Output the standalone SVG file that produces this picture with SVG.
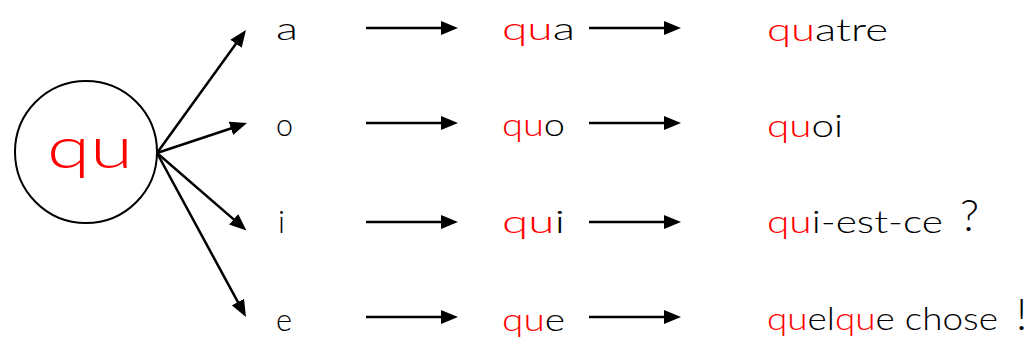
<svg xmlns="http://www.w3.org/2000/svg" width="1029" height="362" viewBox="0 0 1029 362">
<style>
text{font-family:Lato,"DejaVu Sans","Liberation Sans",sans-serif;font-weight:300;fill:#000}
.r{fill:#ff0000}
.w{font-size:31px}
.big{font-size:58px}
.conn line{stroke:#000;stroke-width:2.5;fill:none}
</style>
<defs>
<marker id="ah" markerUnits="userSpaceOnUse" markerWidth="18" markerHeight="14" refX="7" refY="7" orient="auto">
<path d="M0,0 L17,7 L0,14 z" fill="#000"/>
</marker>
</defs>
<g id="center">
<circle cx="86" cy="152" r="71" fill="#fff" stroke="#000" stroke-width="2"/>
<text class="big r" x="47" y="168" textLength="86" lengthAdjust="spacingAndGlyphs">qu</text>
</g>
<g class="conn" id="connectors">
<line x1="157" y1="153" x2="240.1" y2="38.1" marker-end="url(#ah)"/>
<line x1="157" y1="153" x2="237.5" y2="126.2" marker-end="url(#ah)"/>
<line x1="157" y1="153" x2="238.9" y2="223.9" marker-end="url(#ah)"/>
<line x1="157" y1="153" x2="241.2" y2="308.2" marker-end="url(#ah)"/>
<line x1="366" y1="28" x2="448" y2="28" marker-end="url(#ah)"/>
<line x1="366" y1="123" x2="448" y2="123" marker-end="url(#ah)"/>
<line x1="366" y1="222" x2="448" y2="222" marker-end="url(#ah)"/>
<line x1="366" y1="317" x2="448" y2="317" marker-end="url(#ah)"/>
<line x1="589" y1="28" x2="671" y2="28" marker-end="url(#ah)"/>
<line x1="589" y1="123" x2="671" y2="123" marker-end="url(#ah)"/>
<line x1="589" y1="222" x2="671" y2="222" marker-end="url(#ah)"/>
<line x1="589" y1="317" x2="671" y2="317" marker-end="url(#ah)"/>
</g>
<g id="v-a"><text class="w" x="276" y="40" textLength="22" lengthAdjust="spacingAndGlyphs">a</text></g>
<g id="v-o"><text class="w" x="276" y="136" textLength="17" lengthAdjust="spacingAndGlyphs">o</text></g>
<g id="v-i"><text class="w" x="278" y="233">i</text></g>
<g id="v-e"><text class="w" x="276" y="331" textLength="16" lengthAdjust="spacingAndGlyphs">e</text></g>
<g id="s-qua"><text class="w" x="502" y="40" textLength="73" lengthAdjust="spacingAndGlyphs"><tspan class="r">qu</tspan>a</text></g>
<g id="s-quo"><text class="w" x="502" y="136" textLength="63" lengthAdjust="spacingAndGlyphs"><tspan class="r">qu</tspan>o</text></g>
<g id="s-qui"><text class="w" x="502" y="233" textLength="63" lengthAdjust="spacingAndGlyphs"><tspan class="r">qu</tspan>i</text></g>
<g id="s-que"><text class="w" x="502" y="331" textLength="63" lengthAdjust="spacingAndGlyphs"><tspan class="r">qu</tspan>e</text></g>
<g id="w-quatre"><text class="w" x="767" y="41" textLength="121" lengthAdjust="spacingAndGlyphs"><tspan class="r">qu</tspan>atre</text></g>
<g id="w-quoi"><text class="w" x="767" y="137" textLength="76" lengthAdjust="spacingAndGlyphs"><tspan class="r">qu</tspan>oi</text></g>
<g id="w-quiestce"><text class="w" x="767" y="233" textLength="176" lengthAdjust="spacingAndGlyphs"><tspan class="r">qu</tspan>i-est-ce</text><text x="960" y="231" style="font-size:44px">?</text></g>
<g id="w-quelquechose"><text class="w" x="767" y="330" textLength="231" lengthAdjust="spacingAndGlyphs"><tspan class="r">qu</tspan>el<tspan class="r">qu</tspan>e chose</text><text x="1016" y="330" style="font-size:44px">!</text></g>
</svg>
